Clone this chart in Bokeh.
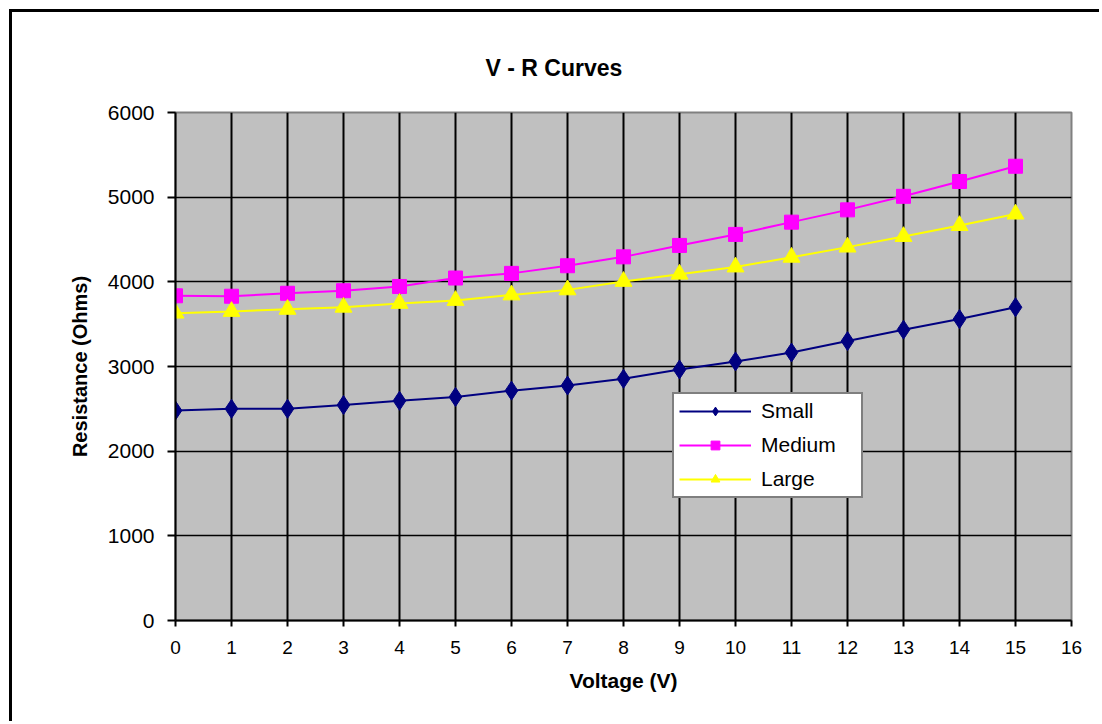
from bokeh.plotting import figure
from bokeh.models import Legend, LegendItem, FixedTicker, Range1d
from bokeh.embed import file_html
from bokeh.resources import INLINE

voltage = list(range(16))
small = [2480, 2500, 2500, 2545, 2595, 2640, 2715, 2775, 2855, 2965, 3060, 3165, 3300, 3435, 3560, 3700]
medium = [3835, 3830, 3865, 3895, 3945, 4045, 4100, 4190, 4295, 4430, 4560, 4705, 4850, 5010, 5185, 5365]
large = [3630, 3650, 3675, 3700, 3745, 3780, 3845, 3905, 4005, 4090, 4175, 4290, 4410, 4535, 4665, 4800]
x_ticks = list(range(17))
y_ticks = [0, 1000, 2000, 3000, 4000, 5000, 6000]

FONT = "Liberation Sans"

p = figure(width=1090, height=712, output_backend="svg", toolbar_location=None,
           x_range=Range1d(0, 16), y_range=Range1d(0, 6000),
           min_border_left=163, min_border_right=31, min_border_top=100, min_border_bottom=104,
           title="V - R Curves")
p.margin = (9, 0, 0, 9)
p.styles = {"border-left": "3px solid black", "border-top": "3px solid black"}

p.title.align = "left"
p.title.vertical_align = "top"
p.title.offset = 310
p.title.standoff = 59
p.title.text_font = FONT
p.title.text_font_style = "bold"
p.title.text_font_size = "23px"
p.title.text_color = "black"

p.background_fill_color = "#C0C0C0"
p.border_fill_color = "white"
p.outline_line_color = "#808080"
p.outline_line_width = 2

p.xgrid.ticker = FixedTicker(ticks=x_ticks)
p.ygrid.ticker = FixedTicker(ticks=y_ticks)
p.xgrid.grid_line_color = "black"
p.xgrid.grid_line_width = 2
p.ygrid.grid_line_color = "black"
p.ygrid.grid_line_width = 1.5

for ax in (p.xaxis[0], p.yaxis[0]):
    ax.axis_line_color = "black"
    ax.axis_line_width = 2
    ax.major_tick_line_color = "black"
    ax.major_tick_line_width = 2
    ax.minor_tick_line_color = None
    ax.major_tick_in = 0
    ax.major_label_text_font = FONT
    ax.major_label_text_color = "black"
    ax.axis_label_text_font = FONT
    ax.axis_label_text_font_style = "bold"
    ax.axis_label_text_color = "black"

p.xaxis.ticker = FixedTicker(ticks=x_ticks)
p.yaxis.ticker = FixedTicker(ticks=y_ticks)
p.xaxis.major_label_text_font_size = "19px"
p.yaxis.major_label_text_font_size = "21px"
p.xaxis.major_tick_out = 6
p.yaxis.major_tick_out = 8
p.xaxis.major_label_standoff = 14
p.yaxis.major_label_standoff = 13
p.xaxis.axis_label = "Voltage (V)"
p.xaxis.axis_label_text_font_size = "21px"
p.xaxis.axis_label_standoff = 12
p.yaxis.axis_label = "Resistance (Ohms)"
p.yaxis.axis_label_text_font_size = "20px"
p.yaxis.axis_label_standoff = 14

series = [
    ("Small", small, "#000080", "diamond", 19),
    ("Medium", medium, "#FF00FF", "square", 14),
    ("Large", large, "#FFFF00", "triangle", 17),
]
items = []
for name, vals, col, mk, sz in series:
    l = p.line(voltage, vals, line_color=col, line_width=2)
    s = p.scatter(voltage, vals, marker=mk, size=sz, fill_color=col, line_color=col)
    items.append(LegendItem(label=name, renderers=[l, s]))

legend = Legend(items=items, location=(497, 122))
legend.background_fill_color = "white"
legend.background_fill_alpha = 1
legend.border_line_color = "black"
legend.border_line_width = 2
legend.label_text_font = FONT
legend.label_text_font_size = "21px"
legend.label_text_color = "black"
legend.label_width = 95
legend.glyph_width = 72
legend.glyph_height = 22
legend.spacing = 10
legend.padding = 5
legend.margin = 0
legend.label_standoff = 10
p.add_layout(legend, "center")

open("out.html", "w").write(file_html(p, INLINE))
